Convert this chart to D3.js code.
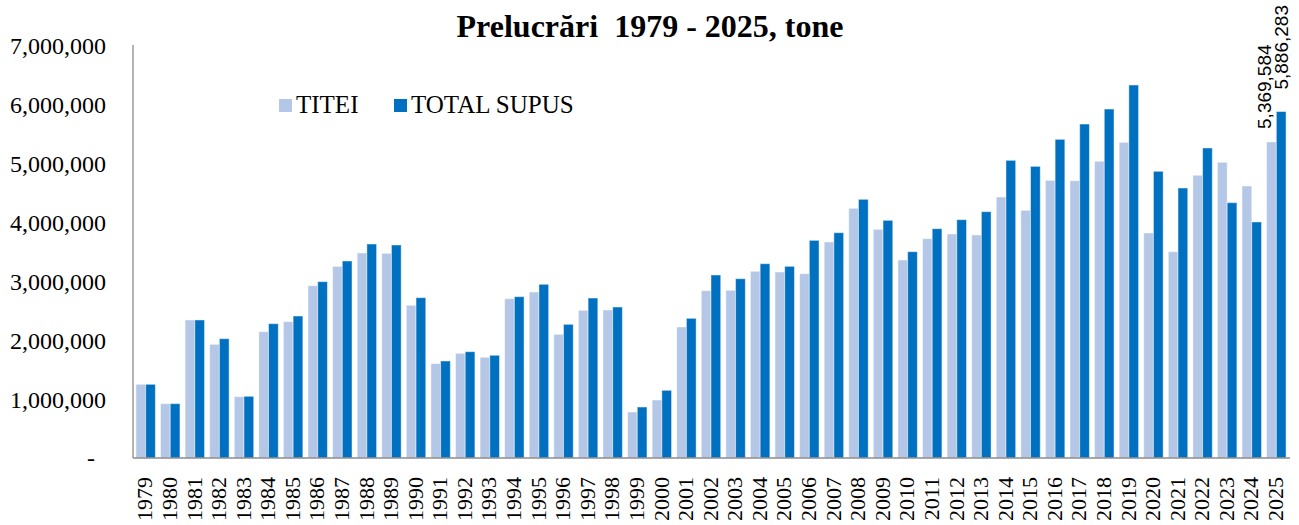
<!DOCTYPE html>
<html>
<head>
<meta charset="utf-8">
<script src="https://cdn.jsdelivr.net/npm/d3@7"></script>
<style>
  body { margin: 0; background: #fff; }
  svg { display: block; }
  text { fill: #000; }
</style>
</head>
<body>
<svg id="chart" width="1299" height="525"></svg>
<script>
// years on the x axis
var years = d3.range(1979, 2026).map(String);

// TITEI (crude oil), tonnes
var titei = [
	1252000, 923000, 2345000, 1931000, 1042000, 2146000, 2316000, 2928000, 3256000, 3483000,
	3477000, 2594000, 1603000, 1778000, 1711000, 2707000, 2820000, 2101000, 2509000, 2514000,
	781000, 985000, 2226000, 2843000, 2849000, 3172000, 3160000, 3131000, 3670000, 4242000,
	3885000, 3364000, 3726000, 3806000, 3789000, 4434000, 4208000, 4717000, 4711000, 5041000,
	5363000, 3823000, 3505000, 4803000, 5024000, 4621000, 5369584
];

// TOTAL SUPUS (total processed), tonnes
var totalSupus = [
	1252000, 923000, 2345000, 2027000, 1048000, 2282000, 2412000, 2996000, 3347000, 3636000,
	3619000, 2724000, 1648000, 1806000, 1745000, 2741000, 2951000, 2271000, 2718000, 2565000,
	866000, 1150000, 2373000, 3109000, 3046000, 3301000, 3256000, 3698000, 3828000, 4395000,
	4038000, 3505000, 3896000, 4049000, 4185000, 5057000, 4955000, 5414000, 5674000, 5929000,
	6337000, 4871000, 4587000, 5267000, 4338000, 4010000, 5886283
];

var seriesNames = ["TITEI", "TOTAL SUPUS"];
var seriesColors = ["#b4c7e7", "#0070c0"];
var yTicks = [0, 1000000, 2000000, 3000000, 4000000, 5000000, 6000000, 7000000];

var svg = d3.select("#chart");
// plot area edges (note: "top" is a reserved window global, so use other names)
var plotLeft = 133, plotRight = 1289, plotTop = 46, plotBottom = 458;

var x = d3.scaleBand()
	.domain(years)
	.range([plotLeft, plotRight])
	.paddingInner(0.21)
	.paddingOuter(0.12);

var xs = d3.scaleBand()
	.domain(seriesNames)
	.range([0, x.bandwidth()]);

var y = d3.scaleLinear()
	.domain([0, 7000000])
	.range([plotBottom, plotTop]);

var fmt = d3.format(",");

// title
svg.append("text")
	.attr("x", 650)
	.attr("y", 37)
	.attr("text-anchor", "middle")
	.style("font", "bold 32px 'Liberation Serif', 'Times New Roman', serif")
	.style("white-space", "pre")
	.text("Prelucrări  1979 - 2025, tone");

// bars
var rows = years.map(function (yr, i) {
	return { year: yr, values: [titei[i], totalSupus[i]] };
});

var groups = svg.append("g").selectAll("g")
	.data(rows)
	.join("g")
	.attr("transform", function (d) { return "translate(" + x(d.year) + ",0)"; });

groups.selectAll("rect")
	.data(function (d) {
		return d.values.map(function (v, k) { return { name: seriesNames[k], value: v, k: k }; });
	})
	.join("rect")
	.attr("x", function (d) { return xs(d.name); })
	.attr("y", function (d) { return y(d.value); })
	.attr("width", xs.bandwidth())
	.attr("height", function (d) { return plotBottom - y(d.value); })
	.attr("fill", function (d) { return seriesColors[d.k]; })
	.attr("stroke", "#ffffff")
	.attr("stroke-opacity", 0.45)
	.attr("stroke-width", 1);

// axis lines
svg.append("line")
	.attr("x1", plotLeft).attr("x2", plotLeft)
	.attr("y1", 45).attr("y2", plotBottom)
	.attr("stroke", "#8c8c8c").attr("stroke-width", 1.3);
svg.append("line")
	.attr("x1", plotLeft).attr("x2", plotRight + 1)
	.attr("y1", plotBottom).attr("y2", plotBottom)
	.attr("stroke", "#8c8c8c").attr("stroke-width", 1.3);

// y tick labels
svg.append("g").selectAll("text")
	.data(yTicks)
	.join("text")
	.attr("x", function (d) { return d === 0 ? 95 : 106; })
	.attr("y", function (d) { return y(d); })
	.attr("dy", "0.35em")
	.attr("text-anchor", "end")
	.style("font", "24px 'Liberation Serif', 'Times New Roman', serif")
	.text(function (d) { return d === 0 ? "-" : fmt(d); });

// x tick labels (rotated)
svg.append("g").selectAll("text")
	.data(years)
	.join("text")
	.attr("transform", function (d) {
		return "translate(" + (x(d) + x.bandwidth() / 2 - 1) + ",477) rotate(-90)";
	})
	.attr("dy", "0.35em")
	.attr("text-anchor", "end")
	.style("font", "22px 'Liberation Serif', 'Times New Roman', serif")
	.text(function (d) { return d; });

// value labels for the last year
var last = years.length - 1;
var lastLabels = [
	{ name: "TITEI", value: titei[last], dx: -7, gap: 13 },
	{ name: "TOTAL SUPUS", value: totalSupus[last], dx: 0, gap: 22 }
];
svg.append("g").selectAll("text")
	.data(lastLabels)
	.join("text")
	.attr("transform", function (d) {
		var cx = x(years[last]) + xs(d.name) + xs.bandwidth() / 2 + d.dx;
		return "translate(" + cx + "," + (y(d.value) - d.gap) + ") rotate(-90)";
	})
	.attr("dy", "0.35em")
	.attr("text-anchor", "start")
	.style("font", "19px 'Liberation Sans', Arial, sans-serif")
	.text(function (d) { return fmt(d.value); });

// legend
var legend = svg.append("g").selectAll("g")
	.data(seriesNames)
	.join("g")
	.attr("transform", function (d, i) { return "translate(" + (i === 0 ? 279 : 394) + ",99)"; });
legend.append("rect")
	.attr("width", 13).attr("height", 13)
	.attr("fill", function (d, i) { return seriesColors[i]; });
legend.append("text")
	.attr("x", 17)
	.attr("y", 14)
	.style("font", "25px 'Liberation Serif', 'Times New Roman', serif")
	.text(function (d) { return d; });
</script>
</body>
</html>
